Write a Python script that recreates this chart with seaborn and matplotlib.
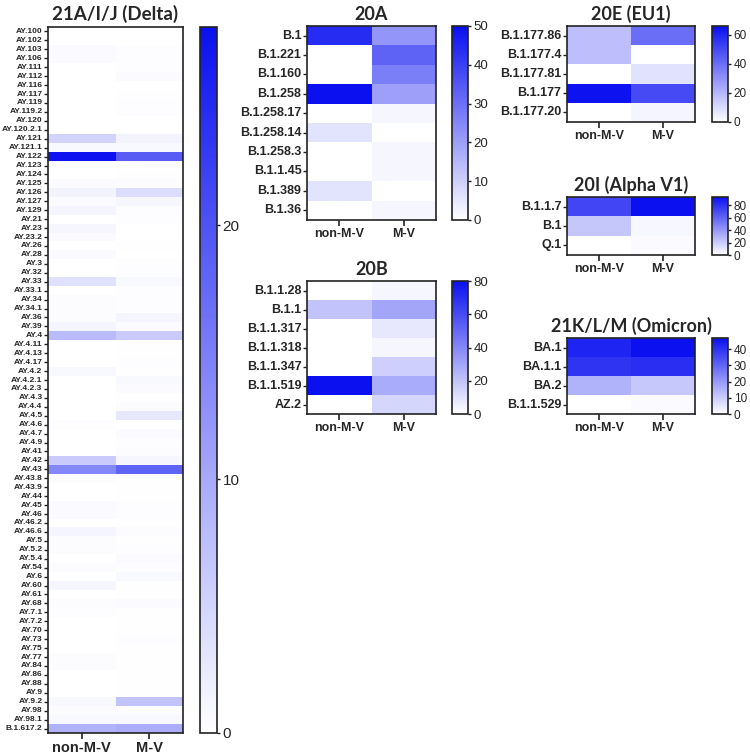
import numpy as np
import pandas as pd
import matplotlib
matplotlib.use("Agg")
import matplotlib.pyplot as plt
import seaborn as sns
from matplotlib.colors import LinearSegmentedColormap

# ==============================
# Data
# ==============================
groups = ["non-M-V", "M-V"]

delta_labels = ["AY.100", "AY.102", "AY.103", "AY.106", "AY.111", "AY.112", "AY.116", "AY.117",
                "AY.119", "AY.119.2", "AY.120", "AY.120.2.1", "AY.121", "AY.121.1", "AY.122",
                "AY.123", "AY.124", "AY.125", "AY.126", "AY.127", "AY.129", "AY.21", "AY.23",
                "AY.23.2", "AY.26", "AY.28", "AY.3", "AY.32", "AY.33", "AY.33.1", "AY.34",
                "AY.34.1", "AY.36", "AY.39", "AY.4", "AY.4.11", "AY.4.13", "AY.4.17", "AY.4.2",
                "AY.4.2.1", "AY.4.2.3", "AY.4.3", "AY.4.4", "AY.4.5", "AY.4.6", "AY.4.7", "AY.4.9",
                "AY.41", "AY.42", "AY.43", "AY.43.8", "AY.43.9", "AY.44", "AY.45", "AY.46",
                "AY.46.2", "AY.46.6", "AY.5", "AY.5.2", "AY.5.4", "AY.54", "AY.6", "AY.60",
                "AY.61", "AY.68", "AY.7.1", "AY.7.2", "AY.70", "AY.73", "AY.75", "AY.77", "AY.84",
                "AY.86", "AY.88", "AY.9", "AY.9.2", "AY.98", "AY.98.1", "B.1.617.2"]
delta_non = [0, 0, 0.6, 0.6, 0, 0, 0, 0,
             0, 0, 0, 0, 5.0, 0.8, 27.5,
             0, 0, 0.5, 1.5, 0.6, 1.2, 0, 1.0,
             0.5, 0, 0.5, 0, 0, 3.5, 0, 0.4,
             0.4, 0.4, 1.2, 8.0, 0, 0, 0, 0.8,
             0, 0, 0, 0, 0, 0.3, 0, 0,
             0, 6.0, 14.0, 0.4, 0, 0, 0.6, 0.6,
             0, 1.2, 0.4, 0.4, 0, 0.4, 0, 1.0,
             0, 0.4, 0.3, 0, 0, 0, 0, 0.4, 0.4,
             0, 0, 0, 0.8, 0.4, 0.8, 9.0]
delta_mv = [0, 0, 0.3, 0.3, 0.3, 0.6, 0, 0.2,
            0.3, 0.3, 0, 0, 1.5, 0.8, 19.0,
            0, 0.2, 0.4, 4.0, 1.0, 0.4, 0.3, 0,
            0, 0.2, 0, 0.3, 0.3, 0.8, 0.3, 0.3,
            0.3, 1.2, 0.6, 6.0, 0.2, 0.2, 0.3, 0.2,
            0.8, 0.5, 0.2, 0.4, 2.8, 0, 0.6, 0.3,
            0.4, 1.0, 18.0, 0.2, 0.2, 0.2, 0.3, 0.3,
            0.2, 0.4, 0.2, 0.3, 0.6, 0.3, 0.8, 0.2,
            0.2, 0.6, 0.2, 0.2, 0.2, 0.3, 0.2, 0.2, 0.2,
            0.2, 0.2, 0.2, 7.0, 0.4, 0.8, 9.5]

a20_labels = ["B.1", "B.1.221", "B.1.160", "B.1.258", "B.1.258.17", "B.1.258.14",
              "B.1.258.3", "B.1.1.45", "B.1.389", "B.1.36"]
a20_non = [44, 0, 0, 50, 0, 6, 0, 0, 6, 0]
a20_mv = [22, 33, 27, 20, 2, 0, 2, 2, 0, 2]

b20_labels = ["B.1.1.28", "B.1.1", "B.1.1.317", "B.1.1.318", "B.1.1.347", "B.1.1.519", "AZ.2"]
b20_non = [0, 20, 0, 0, 0, 80, 0]
b20_mv = [3, 30, 8, 3, 16, 28, 14]

e20_labels = ["B.1.177.86", "B.1.177.4", "B.1.177.81", "B.1.177", "B.1.177.20"]
e20_non = [18, 18, 0, 65, 0]
e20_mv = [40, 0, 8, 50, 3]

i20_labels = ["B.1.1.7", "B.1", "Q.1"]
i20_non = [72, 22, 0]
i20_mv = [93, 3, 2]

k21_labels = ["BA.1", "BA.1.1", "BA.2", "B.1.1.529"]
k21_non = [43, 40, 15, 0]
k21_mv = [47, 41, 11, 1]

# ==============================
# Helpers
# ==============================
W, H = 750, 756
cmap = LinearSegmentedColormap.from_list("wb", ["#FFFFFF", "#0A10F0"])


def px(x0, y0, x1, y1):
    return [x0 / W, 1 - y1 / H, (x1 - x0) / W, (y1 - y0) / H]


def panel(fig, title, labels, non, mv, hbox, cbox, ticks, vmax,
          ysize=9, xsize=9, tsize=13, cbsize=9.5, title_pad=4):
    df = pd.DataFrame({groups[0]: non, groups[1]: mv}, index=labels)
    ax = fig.add_axes(px(*hbox))
    cax = fig.add_axes(px(*cbox))
    sns.heatmap(df, ax=ax, cbar_ax=cax, cmap=cmap, vmin=0, vmax=vmax,
                cbar_kws={"ticks": ticks})
    for s in ax.spines.values():
        s.set_visible(True)
        s.set_linewidth(1.2)
        s.set_color("#222222")
    ax.set_yticks(np.arange(len(labels)) + 0.5)
    ax.set_yticklabels(labels, rotation=0, fontsize=ysize, fontweight="bold",
                       fontfamily="Liberation Sans")
    ax.set_xticklabels(groups, rotation=0, fontsize=xsize, fontweight="bold",
                       fontfamily="Liberation Sans")
    ax.tick_params(axis="y", left=True, length=3, width=1, pad=1, color="#222222")
    ax.tick_params(axis="x", bottom=True, length=4, width=1.2, pad=2, color="#222222")
    ax.set_title(title, fontsize=tsize, fontweight="bold", family="Lato", pad=title_pad)
    cb = ax.collections[0].colorbar
    cb.outline.set_linewidth(1.2)
    cb.outline.set_edgecolor("#222222")
    cax.tick_params(right=True, labelsize=cbsize, length=2.5, width=1, pad=1.5,
                    color="#222222")
    return ax


# ==============================
# Figure
# ==============================
sns.set_theme(style="white")
plt.rcParams["font.family"] = ["Liberation Sans", "DejaVu Sans"]
fig = plt.figure(figsize=(7.5, 7.56), dpi=100)

panel(fig, "21A/I/J (Delta)", delta_labels, delta_non, delta_mv,
      (48, 27, 183, 733), (200, 27, 217, 733), [0, 10, 20], 27.8,
      ysize=6, xsize=10.5, tsize=13.5, cbsize=11, title_pad=5)
panel(fig, "20A", a20_labels, a20_non, a20_mv,
      (307, 26, 436, 220), (452, 26, 468, 220), [0, 10, 20, 30, 40, 50], 50)
panel(fig, "20B", b20_labels, b20_non, b20_mv,
      (307, 281, 436, 414), (452, 281, 468, 414), [0, 20, 40, 60, 80], 80)
panel(fig, "20E (EU1)", e20_labels, e20_non, e20_mv,
      (567, 26, 695, 122), (712, 26, 728, 122), [0, 20, 40, 60], 66, cbsize=8.5)
panel(fig, "20I (Alpha V1)", i20_labels, i20_non, i20_mv,
      (567, 197, 695, 255), (712, 197, 728, 255), [0, 20, 40, 60, 80], 93, cbsize=8.5)
panel(fig, "21K/L/M (Omicron)", k21_labels, k21_non, k21_mv,
      (567, 338, 695, 414), (712, 338, 728, 414), [0, 10, 20, 30, 40], 47, cbsize=8.5)

fig.savefig("out.png", dpi=100)
